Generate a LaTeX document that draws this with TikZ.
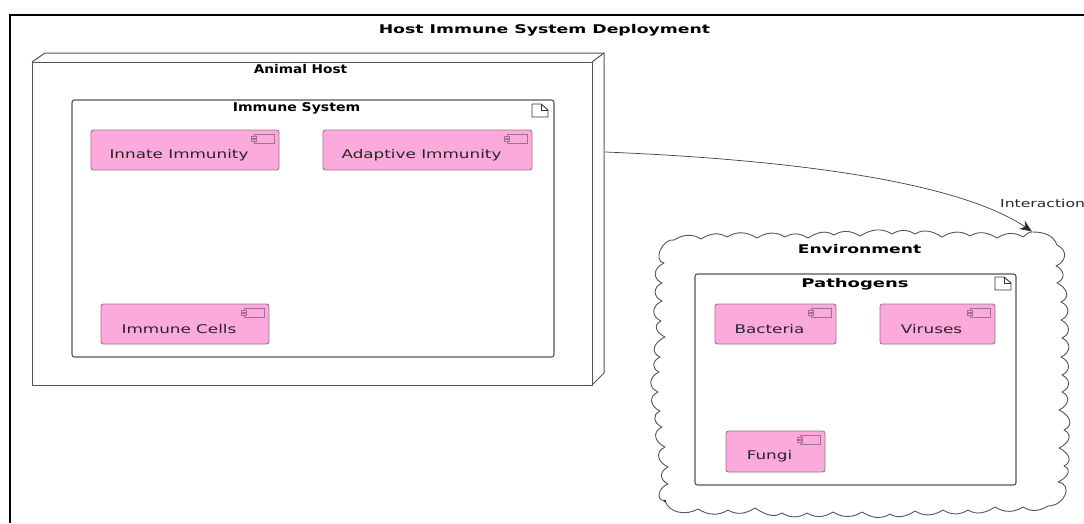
\documentclass[tikz,border=0pt]{standalone}
\usepackage{fontspec}
\usepackage{graphicx}
\setmainfont{DejaVu Sans}
\usetikzlibrary{arrows.meta}
\definecolor{pinkfill}{HTML}{FCA9DC}
\definecolor{compline}{HTML}{A0708E}
\definecolor{frameline}{HTML}{555555}
\newcommand{\widetxt}[2]{\scalebox{#1}[1]{#2}}
\tikzset{
  x=1pt,y=-1pt,
  framebox/.style={draw=frameline,line width=1.1pt,rounded corners=2.5pt},
  nodebox/.style={draw=frameline,line width=1pt},
  compbox/.style={draw=compline,fill=pinkfill,line width=.9pt,rounded corners=2.5pt},
  iconline/.style={draw=compline,line width=.7pt},
  docline/.style={draw=black!80,line width=.9pt},
  lbl/.style={inner sep=0pt,font=\fontsize{12}{14}\selectfont,text=black!85},
  hdr/.style={inner sep=0pt,font=\fontsize{12}{14}\selectfont\bfseries,text=black},
  linkline/.style={draw=black!75,line width=.7pt},
  cloudline/.style={draw=frameline,line width=.9pt},
  tb/.style={out=32,in=148},
  bb/.style={out=-148,in=-32},
  rb/.style={out=-25,in=25,looseness=1.45},
  lb/.style={out=155,in=-155,looseness=1.45}
}
\newcommand{\compnode}[6]{% name x1 y1 x2 y2 label
  \path[compbox] (#2,#3) rectangle (#4,#5);
  \node[lbl] (#1) at ({(#2+#4)/2-6},{(#3+#5)/2+5}) {\widetxt{1.4}{#6}};
  \draw[iconline] ({#4-25},{#3+4}) rectangle ({#4-5},{#3+13});
  \draw[iconline,fill=pinkfill] ({#4-27.5},{#3+6}) rectangle ({#4-22.5},{#3+8});
  \draw[iconline,fill=pinkfill] ({#4-27.5},{#3+9.5}) rectangle ({#4-22.5},{#3+11.5});
}
\newcommand{\docicon}[2]{% right top
  \draw[docline,line join=round] ({#1-16},{#2}) -- ({#1-7},{#2}) -- ({#1},{#2+6}) -- ({#1},{#2+13}) -- ({#1-16},{#2+13}) -- cycle;
  \draw[docline,line join=round] ({#1-7},{#2}) -- ({#1-7},{#2+6}) -- ({#1},{#2+6});
}
\begin{document}
\begin{tikzpicture}
\useasboundingbox (0,0) rectangle (1084,523);
\draw[black,line width=2pt] (10,523) -- (10,14.5) -- (1084,14.5);
\node[hdr] (title) at (544.5,30) {\widetxt{1.44}{Host Immune System Deployment}};

% animal host
\draw[nodebox,line join=round] (32,62) -- (45,53) -- (604,53) -- (604,373) -- (592,385);
\draw[nodebox,line join=round] (592,62) -- (604,53);
\draw[nodebox] (32,62) rectangle (592,385);
\node (host) at (318.5,219) [minimum width=573pt,minimum height=332pt,inner sep=0pt] {};
\node[hdr] (hostlabel) at (300.5,69) {\widetxt{1.14}{Animal Host}};

% immune system
\path[framebox] (72,100) rectangle (554,357);
\node[hdr] (immlabel) at (296.5,108) {\widetxt{1.17}{Immune System}};
\docicon{548}{104}
\compnode{innate}{91}{130}{279}{170}{Innate Immunity}
\compnode{adaptive}{323}{130}{532}{170}{Adaptive Immunity}
\compnode{cells}{101}{304}{269}{344}{Immune Cells}

% environment cloud
\coordinate (cloudtip) at (1032,231.5);
\draw[cloudline,line join=round]
  (674,240)
  to[tb] (701,239) to[tb] (727,237) to[tb] (757,238) to[tb] (785,237)
  to[tb] (808,238) to[tb] (834,235) to[tb] (860,236) to[tb] (892,234)
  to[tb] (915,234) to[tb] (942,237) to[tb] (970,236) to[tb] (997,238)
  to[tb] (1023,237) to[out=35,in=170] (1033,232)
  to[out=0,in=110] (1057,245)
  to[rb] (1056,266) to[rb] (1057,283) to[rb] (1061,302) to[rb] (1061,320)
  to[rb] (1062,338) to[rb] (1061,357) to[rb] (1062,375) to[rb] (1062,392)
  to[rb] (1059,410) to[rb] (1064,430) to[rb] (1059,448) to[rb] (1064,466)
  to[rb] (1058,482)
  to[out=-10,in=0,looseness=1.6] (1048,506)
  to[bb] (1023,507) to[bb] (995,507) to[bb] (968,510) to[bb] (943,510)
  to[bb] (915,511) to[bb] (890,514) to[bb] (862,512) to[bb] (833,512)
  to[bb] (807,513) to[bb] (782,513) to[bb] (755,508) to[bb] (728,510)
  to[bb] (698,509)
  to[out=-150,in=-70] (665,501)
  to[out=175,in=-160,looseness=1.5] (668,484)
  to[lb] (668,467) to[lb] (665,447) to[lb] (662,427) to[lb] (660,411)
  to[lb] (658,392) to[lb] (659,372) to[lb] (660,357) to[lb] (665,337)
  to[lb] (661,321) to[lb] (662,301) to[lb] (662,283) to[lb] (664,263)
  to[out=170,in=170,looseness=1.2] (674,240);
\fill[frameline!60!black] (665,501) circle (1.3);
\node[hdr] (envlabel) at (859.5,249) {\widetxt{1.43}{Environment}};

% pathogens
\path[framebox] (695,274) rectangle (1016,485);
\node[hdr] (pathlabel) at (855,284) {\widetxt{1.5}{Pathogens}};
\docicon{1011}{277}
\compnode{bacteria}{715}{304}{836}{344}{Bacteria}
\compnode{viruses}{880}{304}{995}{344}{Viruses}
\compnode{fungi}{726}{431}{825}{472}{Fungi}

% interaction
\draw[linkline,-{Stealth[length=12pt,width=10pt,inset=3.5pt,fill=black!85]}] (host.east) ++(0,-67) .. controls (800,160) and (960,183) .. (cloudtip);
\node[lbl,anchor=west] (interaction) at (1000,203) {\widetxt{1.42}{\fontsize{11}{13}\selectfont Interaction}};
\end{tikzpicture}
\end{document}
